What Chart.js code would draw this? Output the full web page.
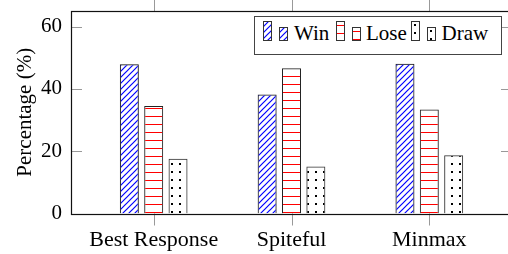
<!DOCTYPE html>
<html>
<head>
<meta charset="utf-8">
<title>Win / Lose / Draw</title>
<script src="https://cdn.jsdelivr.net/npm/chart.js"></script>
<style>
	body{ margin:0; background:#fff; }
	.wrap{ position:relative; width:508px; height:254px; overflow:hidden; }
	.canvas_div{ position:absolute; left:0; top:0; width:520px; height:254px; }
	.legend_box{ position:absolute; left:254px; top:16px; width:248px; height:39px; box-sizing:border-box; border:1.3px solid #444; background:#fff; }
	.sw{ position:absolute; }
	.lg_txt{ position:absolute; top:23.4px; font-family:"Liberation Serif", "DejaVu Serif", serif; font-size:21px; line-height:21px; color:#000; white-space:nowrap; }
</style>
</head>
<body>
<div class="wrap">
	<div class="canvas_div">
		<canvas id="myChart" width="520" height="254"></canvas>
	</div>
	<!-- legend -->
	<div class="legend_box"></div>
	<canvas class="sw" id="sw_win1" width="9" height="20" style="left:263px; top:21px;"></canvas>
	<canvas class="sw" id="sw_win2" width="9" height="14" style="left:279px; top:27px;"></canvas>
	<span class="lg_txt" style="left:294px;">Win</span>
	<canvas class="sw" id="sw_lose1" width="9" height="20" style="left:336px; top:21px;"></canvas>
	<canvas class="sw" id="sw_lose2" width="9" height="14" style="left:352px; top:27px;"></canvas>
	<span class="lg_txt" style="left:366px;">Lose</span>
	<canvas class="sw" id="sw_draw1" width="9" height="20" style="left:411px; top:21px;"></canvas>
	<canvas class="sw" id="sw_draw2" width="9" height="14" style="left:427px; top:27px;"></canvas>
	<span class="lg_txt" style="left:441.5px;">Draw</span>
</div>
<script>
// data
const categories = ['Best Response', 'Spiteful', 'Minmax'];
const winVals  = [47.9, 38.2, 48.1];
const loseVals = [34.5, 46.6, 33.4];
const drawVals = [17.6, 15.1, 18.7];
const yTicks = [0, 20, 40, 60];

const FONT = { family: '"Liberation Serif", "DejaVu Serif", serif', size: 21 };
const XFONT = { family: '"Liberation Serif", "DejaVu Serif", serif', size: 22 };

// fill patterns (pgfplots style)
function makePattern(kind){
	const c = document.createElement('canvas');
	const g = c.getContext('2d');
	if(kind == 'win'){
		c.width = 6; c.height = 6;
		g.strokeStyle = '#0000ff';
		g.lineWidth = 1.2;
		g.beginPath();
		g.moveTo(-1, 7); g.lineTo(7, -1);
		g.moveTo(-4, 4); g.lineTo(4, -4);
		g.moveTo(2, 10); g.lineTo(10, 2);
		g.stroke();
	} else if(kind == 'lose'){
		c.width = 8; c.height = 8;
		g.fillStyle = '#ff0000';
		g.fillRect(0, 4, 8, 1);
	} else {
		c.width = 8; c.height = 8;
		g.fillStyle = '#000';
		g.fillRect(3, 3, 2, 2);
	}
	return g.createPattern(c, 'repeat');
}

function paintSwatch(id, kind){
	const c = document.getElementById(id);
	const g = c.getContext('2d');
	g.fillStyle = makePattern(kind);
	g.fillRect(0, 0, c.width, c.height);
	g.strokeStyle = '#333';
	g.lineWidth = 1;
	g.strokeRect(0.5, 0.5, c.width - 1, c.height - 1);
}
paintSwatch('sw_win1', 'win');  paintSwatch('sw_win2', 'win');
paintSwatch('sw_lose1', 'lose'); paintSwatch('sw_lose2', 'lose');
paintSwatch('sw_draw1', 'draw'); paintSwatch('sw_draw2', 'draw');

// frame + inward/outward ticks
const framePlugin = {
	id: 'frame',
	afterDraw(chart){
		const ctx = chart.ctx;
		const a = chart.chartArea;
		const xs = chart.scales.x, ys = chart.scales.y;
		ctx.save();
		ctx.strokeStyle = '#999';
		ctx.lineWidth = 1;
		ctx.beginPath();
		yTicks.forEach(function(v){
			const py = Math.round(ys.getPixelForValue(v)) + 0.5;
			ctx.moveTo(a.left, py); ctx.lineTo(a.left + 11, py);
			ctx.moveTo(a.right - 11, py); ctx.lineTo(a.right, py);
		});
		categories.forEach(function(c, i){
			const px = Math.round(xs.getPixelForValue(i)) + 0.5;
			ctx.moveTo(px, a.bottom); ctx.lineTo(px, a.bottom + 12);
			ctx.moveTo(px, a.top - 12); ctx.lineTo(px, a.top);
		});
		ctx.stroke();
		ctx.strokeStyle = '#111';
		ctx.lineWidth = 1.2;
		ctx.strokeRect(Math.round(a.left) + 0.5, Math.round(a.top) + 0.5,
			Math.round(a.right) - Math.round(a.left), Math.round(a.bottom) - Math.round(a.top));
		ctx.restore();
	}
};

function pts(vals){
	return vals.map(function(v, i){ return { x: i, y: v }; });
}

const chart_data = {
	datasets: [
		{ label: 'Win',  data: pts(winVals),  backgroundColor: makePattern('win'),  borderColor: '#111', borderWidth: 1 },
		{ label: 'Lose', data: pts(loseVals), backgroundColor: makePattern('lose'), borderColor: '#222', borderWidth: 1 },
		{ label: 'Draw', data: pts(drawVals), backgroundColor: makePattern('draw'), borderColor: '#333', borderWidth: 1 }
	]
};

const config = {
	type: 'bar',
	data: chart_data,
	options: {
		responsive: false,
		animation: false,
		devicePixelRatio: 1,
		categoryPercentage: 0.53,
		barPercentage: 0.78,
		layout: { padding: { top: 11, right: 8, left: 0, bottom: 0 } },
		plugins: { legend: { display: false }, tooltip: { enabled: false } },
		scales: {
			x: {
				type: 'linear',
				min: -0.6,
				max: 2.6,
				offset: false,
				grid: { display: false, drawTicks: false },
				border: { display: false },
				ticks: {
					stepSize: 1,
					includeBounds: false,
					autoSkip: false,
					maxRotation: 0,
					padding: 14,
					color: '#000',
					font: XFONT,
					callback: function(v){ return categories[Math.round(v)] || ''; }
				},
				afterFit: function(s){ s.height = 40.5; s.paddingLeft = 0; s.paddingRight = 0; }
			},
			y: {
				min: 0,
				max: 65,
				grid: { display: false, drawTicks: false },
				border: { display: false },
				ticks: { stepSize: 20, includeBounds: false, padding: 9, color: '#000', font: FONT },
				title: { display: true, text: 'Percentage (%)', color: '#000', font: FONT, padding: { top: 13, bottom: 0 } },
				afterFit: function(s){ s.width = 71; s.paddingTop = 0; s.paddingBottom = 0; }
			}
		}
	},
	plugins: [framePlugin]
};

var myChart = new Chart(document.getElementById('myChart'), config);
</script>
</body>
</html>
